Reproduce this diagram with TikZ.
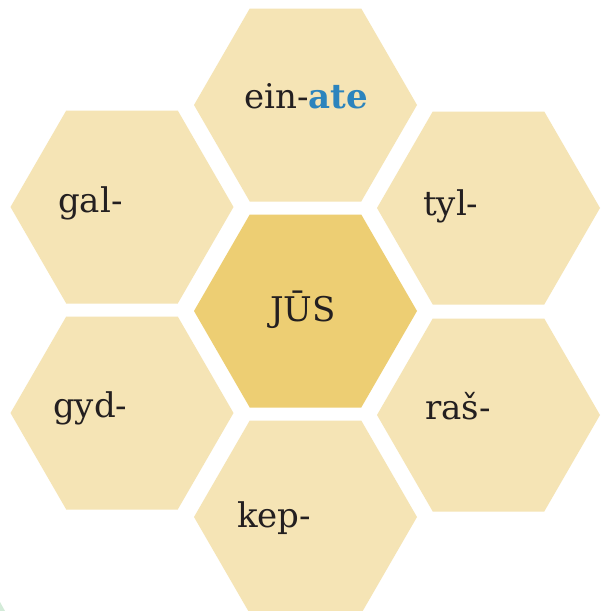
\documentclass[tikz,border=0pt]{standalone}
\usepackage{fontspec}
\setmainfont{DejaVu Serif}
\definecolor{hexlight}{HTML}{F5E4B5}
\definecolor{hexdark}{HTML}{EDCE73}
\definecolor{txtdark}{HTML}{231F20}
\definecolor{blueend}{HTML}{2C84BD}
\definecolor{leafgreen}{HTML}{D3EBD8}
\tikzset{
  hex/.pic={\fill[#1] (111.5,0) -- (55.75,96.5) -- (-55.75,96.5) -- (-111.5,0) -- (-55.75,-96.5) -- (55.75,-96.5) -- cycle;},
  word/.style={anchor=base west, inner sep=0pt, text=txtdark, font=\fontsize{34}{40}\selectfont}
}
\begin{document}
\begin{tikzpicture}[x=1pt,y=-1pt]
\useasboundingbox (0,0) rectangle (611,611);
\clip (0,0) rectangle (611,611);
\fill[white] (0,0) rectangle (611,611);
\fill[leafgreen] (0,602) -- (5,611) -- (0,611) -- cycle;
\pic at (305.5,105) {hex={hexlight}};
\pic at (305.5,311) {hex={hexdark}};
\pic at (305.5,517) {hex={hexlight}};
\pic at (122,207) {hex={hexlight}};
\pic at (122,413) {hex={hexlight}};
\pic at (488.5,208) {hex={hexlight}};
\pic at (488.5,415) {hex={hexlight}};
\node[word] (ein) at (244,108) {ein-\textcolor{blueend}{\textbf{ate}}};
\node[word] (jus) at (270,321) {JŪS};
\node[word] (gal) at (58,212) {gal-};
\node[word] (tyl) at (423,215) {tyl-};
\node[word] (gyd) at (53,417) {gyd-};
\node[word] (ras) at (425,419) {raš-};
\node[word] (kep) at (237,527) {kep-};
\end{tikzpicture}
\end{document}
